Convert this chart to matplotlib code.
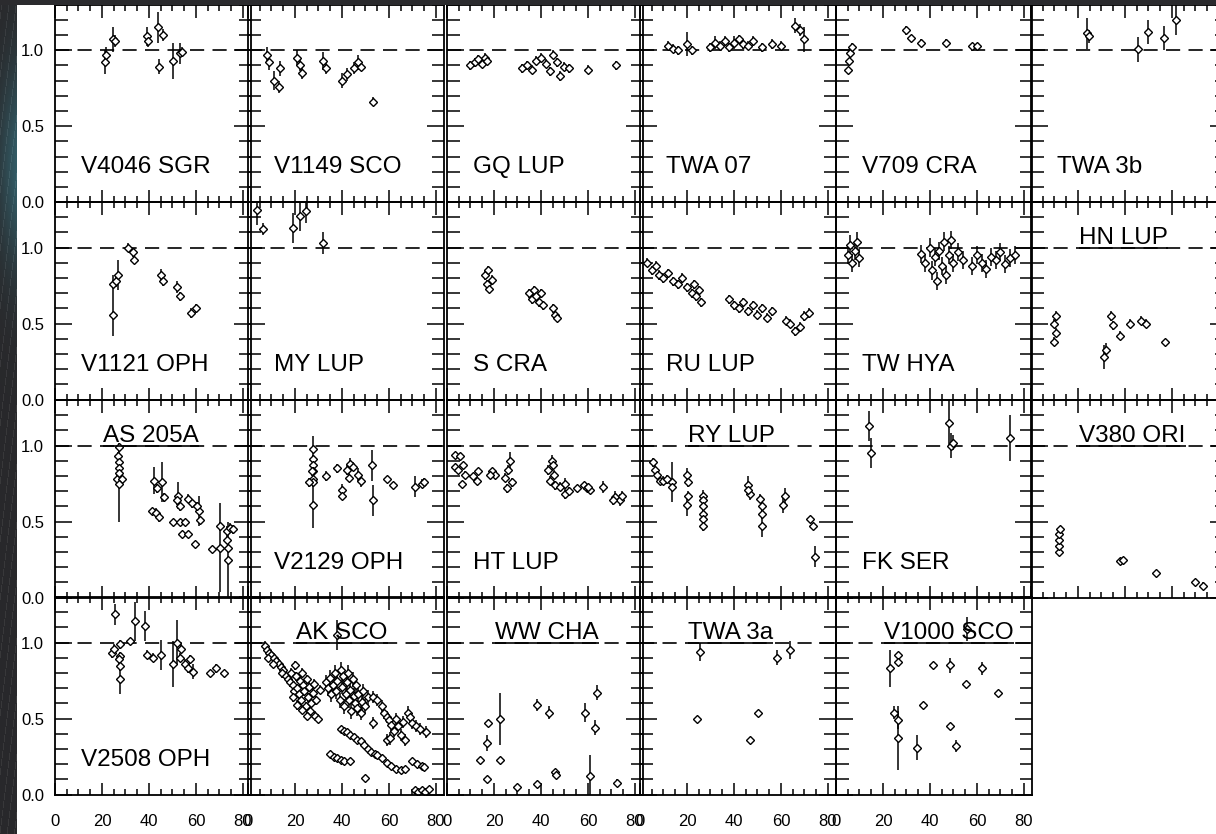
import numpy as np
import matplotlib
matplotlib.use("Agg")
import matplotlib.pyplot as plt
from matplotlib.ticker import MultipleLocator, FixedLocator

plt.rcParams['font.family'] = ['Liberation Sans', 'DejaVu Sans']

# ---------------- data: phase (x), normalised value (y), uncertainty (e) ----------------
V4046_SGR_X = [21.3, 21.7, 24.8, 25.5, 39.0, 39.5, 44.0, 46.0, 44.4, 50.3, 53.2, 54.0]
V4046_SGR_Y = [0.92, 0.97, 1.07, 1.06, 1.09, 1.06, 1.15, 1.10, 0.89, 0.93, 0.98, 0.99]
V4046_SGR_E = [0.08, 0.05, 0.08, 0.04, 0.06, 0.04, 0.10, 0.04, 0.05, 0.12, 0.07, 0.03]

V1149_SCO_X = [8, 9, 11, 13, 13.5, 21, 22, 23, 32, 33, 40, 42, 45, 47, 48, 53]
V1149_SCO_Y = [0.97, 0.92, 0.80, 0.76, 0.88, 0.95, 0.90, 0.85, 0.93, 0.88, 0.80, 0.84, 0.88, 0.92, 0.89, 0.66]
V1149_SCO_E = [0.05, 0.05, 0.06, 0.04, 0.05, 0.05, 0.04, 0.04, 0.06, 0.04, 0.05, 0.04, 0.04, 0.05, 0.03, 0.03]

GQ_LUP_X = [10, 12, 13, 15, 16, 17, 32, 34, 36, 38, 40, 42, 44, 45, 47, 48, 50, 52, 60, 72]
GQ_LUP_Y = [0.90, 0.92, 0.94, 0.91, 0.95, 0.93, 0.88, 0.90, 0.87, 0.93, 0.95, 0.91, 0.86, 0.97, 0.92, 0.83, 0.89, 0.88, 0.87, 0.90]
GQ_LUP_E = [0.03] * 20

TWA_07_X = [12, 14, 16, 20, 22, 30, 32, 34, 36, 38, 40, 42, 44, 46, 48, 52, 56, 60, 66, 68, 70]
TWA_07_Y = [1.03, 1.01, 1.00, 1.04, 1.00, 1.02, 1.05, 1.03, 1.06, 1.02, 1.05, 1.07, 1.04, 1.03, 1.06, 1.02, 1.04, 1.03, 1.16, 1.13, 1.07]
TWA_07_E = [0.03, 0.03, 0.03, 0.08, 0.03, 0.03, 0.04, 0.03, 0.03, 0.03, 0.04, 0.03, 0.03, 0.03, 0.03, 0.03, 0.03, 0.03, 0.05, 0.04, 0.08]

V709_CRA_X = [5, 5.5, 6, 7, 30, 32, 36, 47, 58, 60]
V709_CRA_Y = [0.87, 0.93, 0.98, 1.02, 1.13, 1.08, 1.05, 1.05, 1.03, 1.03]
V709_CRA_E = [0.02, 0.02, 0.02, 0.03, 0.03, 0.02, 0.02, 0.02, 0.02, 0.02]

TWA_3B_X = [23.7, 24.8, 45.7, 49.6, 56.6, 61.7]
TWA_3B_Y = [1.11, 1.09, 1.005, 1.12, 1.08, 1.20]
TWA_3B_E = [0.1, 0.04, 0.08, 0.08, 0.08, 0.1]

V1121_OPH_X = [24.5, 24.8, 26, 27, 31, 33, 33.5, 45, 46, 52, 53, 58, 60]
V1121_OPH_Y = [0.56, 0.76, 0.78, 0.82, 1.0, 0.97, 0.92, 0.82, 0.78, 0.74, 0.68, 0.57, 0.60]
V1121_OPH_E = [0.14, 0.06, 0.04, 0.1, 0.03, 0.03, 0.03, 0.04, 0.03, 0.04, 0.03, 0.03, 0.03]

MY_LUP_X = [4, 6.5, 19, 22, 24.5, 32]
MY_LUP_Y = [1.25, 1.12, 1.13, 1.21, 1.24, 1.03]
MY_LUP_E = [0.1, 0.04, 0.1, 0.1, 0.08, 0.07]

S_CRA_X = [16, 17, 18, 19, 17.5, 35, 36, 37, 38, 39, 40, 41, 45, 46, 47]
S_CRA_Y = [0.82, 0.76, 0.73, 0.79, 0.85, 0.70, 0.66, 0.72, 0.68, 0.64, 0.70, 0.62, 0.60, 0.56, 0.54]
S_CRA_E = [0.03] * 15

RU_LUP_X = [3, 5, 7, 8, 10, 12, 14, 16, 18, 20, 22, 23, 24, 25, 26, 38, 40, 42, 44, 46, 48, 50, 52, 54, 56, 62, 64, 66, 68, 70, 72]
RU_LUP_Y = [0.90, 0.85, 0.88, 0.82, 0.80, 0.83, 0.78, 0.76, 0.80, 0.74, 0.70, 0.76, 0.68, 0.72, 0.64, 0.66, 0.62, 0.60, 0.64, 0.58, 0.62, 0.56, 0.60, 0.54, 0.58, 0.52, 0.50, 0.45, 0.48, 0.55, 0.57]
RU_LUP_E = [0.03] * 31

TW_HYA_X = [5, 6, 7, 8, 9, 10, 36, 38, 40, 41, 42, 43, 44, 45, 46, 47, 48, 49, 50, 52, 54, 58, 60, 62, 64, 66, 68, 70, 72, 74, 76]
TW_HYA_Y = [0.95, 1.02, 0.90, 0.98, 1.04, 0.93, 0.96, 0.90, 1.00, 0.85, 0.94, 0.78, 0.98, 0.88, 1.04, 0.82, 0.95, 1.05, 0.90, 0.97, 0.92, 0.88, 0.95, 0.90, 0.86, 0.94, 0.92, 0.97, 0.89, 0.93, 0.95]
TW_HYA_E = [0.06] * 31

HN_LUP_X = [10, 10.5, 10, 10.5, 31, 32, 34, 35, 38, 42, 47, 49, 57]
HN_LUP_Y = [0.38, 0.44, 0.50, 0.55, 0.28, 0.33, 0.55, 0.49, 0.42, 0.50, 0.52, 0.50, 0.38]
HN_LUP_E = [0.03, 0.03, 0.03, 0.03, 0.08, 0.04, 0.03, 0.03, 0.03, 0.03, 0.03, 0.03, 0.02]

AS_205A_X = [27.4, 27.0, 27.4, 27.4, 26.5, 28.5, 27.4, 27.4, 42.1, 45.4, 43.3, 46.4, 41.1, 43.0, 44.4,
             52.5, 51.8, 53.0, 56.7, 58.2, 61.4, 61.7, 60.3, 50.4, 53.0, 55.3, 54.0, 56.7, 59.6,
             66.7, 70.2, 70.2, 73.0, 74.4, 75.8, 73.7, 73.7, 73.0]
AS_205A_Y = [0.99, 0.93, 0.89, 0.85, 0.78, 0.78, 0.75, 0.82, 0.77, 0.76, 0.72, 0.66, 0.57, 0.56, 0.53,
             0.67, 0.64, 0.60, 0.65, 0.62, 0.57, 0.51, 0.60, 0.50, 0.50, 0.50, 0.42, 0.42, 0.35,
             0.32, 0.33, 0.47, 0.44, 0.46, 0.45, 0.33, 0.25, 0.38]
AS_205A_E = [0.03, 0.03, 0.03, 0.03, 0.03, 0.03, 0.25, 0.03, 0.09, 0.13, 0.03, 0.03, 0.02, 0.03, 0.03,
             0.09, 0.03, 0.03, 0.03, 0.03, 0.1, 0.02, 0.03, 0.01, 0.01, 0.01, 0.01, 0.01, 0.02,
             0.02, 0.29, 0.03, 0.03, 0.03, 0.03, 0.03, 0.25, 0.03]

V2129_OPH_X = [27.8, 27.8, 27.8, 27.8, 27.8, 27.8, 27.8, 26.0, 27.2, 33.3, 37.7, 39.8, 39.8, 42.0, 43.4,
               44.5, 43.0, 46.9, 48.3, 52.6, 53.0, 59.0, 61.8, 71.0, 73.9, 75.0]
V2129_OPH_Y = [0.98, 0.91, 0.87, 0.83, 0.78, 0.76, 0.61, 0.76, 0.83, 0.80, 0.85, 0.71, 0.67, 0.84, 0.88,
               0.86, 0.79, 0.81, 0.77, 0.87, 0.64, 0.78, 0.74, 0.73, 0.75, 0.76]
V2129_OPH_E = [0.08, 0.03, 0.03, 0.03, 0.03, 0.03, 0.15, 0.03, 0.03, 0.03, 0.03, 0.04, 0.03, 0.03, 0.04,
               0.03, 0.03, 0.04, 0.04, 0.1, 0.1, 0.02, 0.02, 0.07, 0.03, 0.03]

HT_LUP_X = [3.4, 5.5, 3.4, 6.8, 4.8, 7.5, 6.2, 11.2, 13.3, 12.6, 19.0, 20.4, 18.5, 24.7, 26.1, 26.8, 25.4,
            27.5, 44.5, 45.2, 43.1, 45.5, 43.8, 45.9, 48.0, 50.1, 50.1, 52.0, 55.2, 58.1, 59.5, 60.9, 59.8,
            66.5, 71.5, 73.6, 74.3, 70.8]
HT_LUP_Y = [0.94, 0.93, 0.86, 0.87, 0.84, 0.81, 0.75, 0.80, 0.83, 0.77, 0.83, 0.81, 0.81, 0.79, 0.84, 0.90, 0.72,
            0.76, 0.90, 0.87, 0.84, 0.81, 0.77, 0.74, 0.73, 0.75, 0.68, 0.70, 0.72, 0.74, 0.72, 0.71, 0.73,
            0.73, 0.66, 0.64, 0.67, 0.64]
HT_LUP_E = [0.02, 0.02, 0.02, 0.02, 0.02, 0.02, 0.02, 0.02, 0.02, 0.02, 0.02, 0.02, 0.02, 0.03, 0.03, 0.06, 0.03,
            0.03, 0.04, 0.03, 0.03, 0.03, 0.03, 0.03, 0.03, 0.04, 0.03, 0.03, 0.02, 0.02, 0.02, 0.02, 0.02,
            0.04, 0.04, 0.04, 0.03, 0.03]

RY_LUP_X = [5.7, 6.4, 7.1, 8.5, 9.9, 11.3, 13.5, 13.5, 19.9, 20.6, 20.6, 19.9, 26.6, 26.6, 26.6, 26.6,
            26.6, 26.6, 46.1, 46.8, 46.1, 51.1, 51.8, 51.8, 51.8, 61.7, 61.0, 72.3, 73.8, 74.5]
RY_LUP_Y = [0.89, 0.84, 0.81, 0.77, 0.77, 0.78, 0.76, 0.73, 0.81, 0.76, 0.67, 0.61, 0.67, 0.64, 0.60, 0.55,
            0.52, 0.47, 0.74, 0.68, 0.71, 0.65, 0.60, 0.55, 0.47, 0.67, 0.61, 0.52, 0.47, 0.27]
RY_LUP_E = [0.03, 0.03, 0.03, 0.03, 0.03, 0.03, 0.13, 0.03, 0.04, 0.03, 0.03, 0.07, 0.04, 0.03, 0.03, 0.03,
            0.03, 0.03, 0.06, 0.04, 0.03, 0.03, 0.03, 0.03, 0.07, 0.05, 0.05, 0.01, 0.01, 0.07]

FK_SER_X = [14, 15, 48, 49, 50, 74]
FK_SER_Y = [1.13, 0.95, 1.15, 1.00, 1.02, 1.05]
FK_SER_E = [0.10, 0.10, 0.15, 0.08, 0.05, 0.15]

V380_ORI_X = [12, 12, 12, 12, 12.3, 38, 39, 53, 70, 73]
V380_ORI_Y = [0.30, 0.34, 0.38, 0.42, 0.45, 0.24, 0.25, 0.16, 0.10, 0.08]
V380_ORI_E = [0.02] * 10

V2508_OPH_X = [25.5, 24.1, 25.0, 27.7, 27.2, 27.7, 27.7, 27.7, 31.9, 34.0, 38.3, 39.0, 41.8, 45.0, 50.3,
               52.0, 53.5, 53.0, 55.3, 57.4, 58.9, 56.7, 66.0, 68.5, 72.0]
V2508_OPH_Y = [1.185, 0.93, 0.96, 0.91, 0.89, 0.99, 0.845, 0.76, 1.01, 1.14, 1.11, 0.92, 0.90, 0.92, 0.86,
               1.00, 0.96, 0.90, 0.86, 0.89, 0.81, 0.83, 0.80, 0.83, 0.80]
V2508_OPH_E = [0.07, 0.03, 0.03, 0.03, 0.03, 0.03, 0.03, 0.10, 0.02, 0.13, 0.10, 0.03, 0.03, 0.10, 0.15,
               0.15, 0.03, 0.03, 0.03, 0.03, 0.05, 0.03, 0.02, 0.03, 0.02]

AK_SCO_X = [7.2, 8, 9, 10, 8.5, 11, 12, 13, 10.5, 14, 15, 14.5, 16, 17, 18, 18.5, 19, 19.5, 20, 20.5, 21,
            21.5, 22, 22.5, 23, 23.5, 24, 24.5, 25, 25.5, 26, 26.5, 27, 27.5, 28, 28.5, 29, 30, 30.5, 19, 21,
            23, 25,
            33, 34, 35, 35.5, 36, 37, 37.5, 38, 39, 39.5, 40, 40.5, 41, 41.5, 42, 42.5, 43, 43.5, 44, 44.5,
            45, 45.5, 46, 46.5, 47, 48, 48.5, 49, 50, 51,
            53, 55, 53, 57, 58, 59, 60, 61, 62, 63, 64, 66, 68, 69, 70, 71.5, 73, 75.7, 67, 65, 59, 60.5,
            39.5, 41, 42, 43.5, 45, 46.5, 48, 49.5, 51, 52.5, 54, 55, 57, 59, 61, 63, 65, 67, 69.7, 72, 73.9, 75,
            35, 36.5, 38, 39.5, 41, 43.5, 49.8, 71, 72.5, 74, 75.5, 77, 38]
AK_SCO_Y = [0.98, 0.95, 0.93, 0.92, 0.90, 0.90, 0.88, 0.86, 0.86, 0.84, 0.82, 0.80, 0.78, 0.76, 0.74, 0.80,
            0.72, 0.68, 0.85, 0.78, 0.70, 0.66, 0.75, 0.62, 0.80, 0.72, 0.68, 0.58, 0.76, 0.64, 0.71, 0.55,
            0.60, 0.67, 0.73, 0.52, 0.62, 0.50, 0.69, 0.64, 0.59, 0.56, 0.52,
            0.74, 0.70, 0.77, 0.66, 0.72, 0.80, 0.68, 0.75, 0.62, 0.82, 0.71, 0.78, 0.58, 0.66, 0.74, 0.80,
            0.62, 0.69, 0.55, 0.76, 0.65, 0.60, 0.72, 0.57, 0.66, 0.54, 0.61, 0.68, 0.58, 0.64,
            0.64, 0.62, 0.47, 0.58, 0.54, 0.51, 0.49, 0.46, 0.42, 0.50, 0.45, 0.48, 0.54, 0.51, 0.47, 0.45,
            0.43, 0.41, 0.36, 0.39, 0.36, 0.37,
            0.43, 0.42, 0.41, 0.39, 0.38, 0.36, 0.35, 0.33, 0.30, 0.28, 0.27, 0.26, 0.24, 0.21, 0.19, 0.17,
            0.16, 0.17, 0.22, 0.20, 0.19, 0.18,
            0.27, 0.25, 0.24, 0.23, 0.22, 0.22, 0.11, 0.03, 0.02, 0.03, 0.02, 0.04, 1.05]
AK_SCO_E = [0.03] * 43 + [0.05] * 30 + [0.04] * 22 + [0.02] * 22 + [0.02] * 12 + [0.10]

WW_CHA_X = [14.0, 16.9, 17.6, 22.6, 22.6, 16.9, 38.2, 43.2, 38.2, 46.0, 46.5, 58.7, 63.7, 63.0, 60.9,
            72.3, 30.0]
WW_CHA_Y = [0.23, 0.34, 0.47, 0.50, 0.23, 0.10, 0.59, 0.54, 0.07, 0.15, 0.13, 0.54, 0.67, 0.44, 0.12,
            0.08, 0.05]
WW_CHA_E = [0.02, 0.05, 0.02, 0.17, 0.01, 0.02, 0.04, 0.04, 0.02, 0.02, 0.02, 0.06, 0.05, 0.05, 0.14,
            0.02, 0.01]

TWA_3A_X = [25.5, 24.1, 58.2, 63.8, 46.8, 50.4]
TWA_3A_Y = [0.94, 0.50, 0.90, 0.95, 0.36, 0.54]
TWA_3A_E = [0.06, 0.02, 0.05, 0.06, 0.02, 0.02]

V1000_SCO_X = [23.0, 26.5, 26.5, 41.4, 48.5, 62.0, 55.2, 69.1, 37.2, 24.8, 26.2, 26.4, 34.3, 48.5, 51.1, 55.6]
V1000_SCO_Y = [0.83, 0.92, 0.87, 0.85, 0.85, 0.83, 0.73, 0.67, 0.59, 0.54, 0.49, 0.37, 0.31, 0.45, 0.32, 1.09]
V1000_SCO_E = [0.12, 0.02, 0.02, 0.01, 0.05, 0.04, 0.01, 0.01, 0.01, 0.04, 0.06, 0.21, 0.08, 0.02, 0.04, 0.08]

# (row, col, name, label placement, x, y, err)
PANELS = [
    (0, 0, "V4046 SGR", "low", V4046_SGR_X, V4046_SGR_Y, V4046_SGR_E),
    (0, 1, "V1149 SCO", "low", V1149_SCO_X, V1149_SCO_Y, V1149_SCO_E),
    (0, 2, "GQ LUP", "low", GQ_LUP_X, GQ_LUP_Y, GQ_LUP_E),
    (0, 3, "TWA 07", "low", TWA_07_X, TWA_07_Y, TWA_07_E),
    (0, 4, "V709 CRA", "low", V709_CRA_X, V709_CRA_Y, V709_CRA_E),
    (0, 5, "TWA 3b", "low", TWA_3B_X, TWA_3B_Y, TWA_3B_E),
    (1, 0, "V1121 OPH", "low", V1121_OPH_X, V1121_OPH_Y, V1121_OPH_E),
    (1, 1, "MY LUP", "low", MY_LUP_X, MY_LUP_Y, MY_LUP_E),
    (1, 2, "S CRA", "low", S_CRA_X, S_CRA_Y, S_CRA_E),
    (1, 3, "RU LUP", "low", RU_LUP_X, RU_LUP_Y, RU_LUP_E),
    (1, 4, "TW HYA", "low", TW_HYA_X, TW_HYA_Y, TW_HYA_E),
    (1, 5, "HN LUP", "high", HN_LUP_X, HN_LUP_Y, HN_LUP_E),
    (2, 0, "AS 205A", "high", AS_205A_X, AS_205A_Y, AS_205A_E),
    (2, 1, "V2129 OPH", "low", V2129_OPH_X, V2129_OPH_Y, V2129_OPH_E),
    (2, 2, "HT LUP", "low", HT_LUP_X, HT_LUP_Y, HT_LUP_E),
    (2, 3, "RY LUP", "high", RY_LUP_X, RY_LUP_Y, RY_LUP_E),
    (2, 4, "FK SER", "low", FK_SER_X, FK_SER_Y, FK_SER_E),
    (2, 5, "V380 ORI", "high", V380_ORI_X, V380_ORI_Y, V380_ORI_E),
    (3, 0, "V2508 OPH", "low", V2508_OPH_X, V2508_OPH_Y, V2508_OPH_E),
    (3, 1, "AK SCO", "high", AK_SCO_X, AK_SCO_Y, AK_SCO_E),
    (3, 2, "WW CHA", "high", WW_CHA_X, WW_CHA_Y, WW_CHA_E),
    (3, 3, "TWA 3a", "high", TWA_3A_X, TWA_3A_Y, TWA_3A_E),
    (3, 4, "V1000 SCO", "high", V1000_SCO_X, V1000_SCO_Y, V1000_SCO_E),
]

X_TICKS = [0, 20, 40, 60, 80]
Y_TICKS = [0.0, 0.5, 1.0]

# ---------------- layout (pixels) ----------------
W, H = 1216, 834
COL_LEFT = [55, 248, 447, 640, 836, 1031]
COL_W = 195.5
ROW_TOP = [4.5, 202, 400, 597]
ROW_H = 197.7
XLIM = (0, 83.2)
YLIM = (0, 1.3)

fig = plt.figure(figsize=(W / 100, H / 100), dpi=100)
fig.patch.set_facecolor("white")

underlined = []
for row, col, name, place, xs, ys, es in PANELS:
    l = COL_LEFT[col] / W
    b = (H - ROW_TOP[row] - ROW_H) / H
    ax = fig.add_axes([l, b, COL_W / W, ROW_H / H])
    ax.set_xlim(*XLIM)
    ax.set_ylim(*YLIM)
    ax.set_facecolor("none")
    for s in ax.spines.values():
        s.set_linewidth(1.3)
    ax.xaxis.set_major_locator(FixedLocator(X_TICKS))
    ax.xaxis.set_minor_locator(MultipleLocator(5))
    ax.yaxis.set_major_locator(FixedLocator(Y_TICKS))
    ax.yaxis.set_minor_locator(MultipleLocator(0.1))
    ax.tick_params(axis="both", which="both", direction="in", top=True, right=True, width=1.1)
    ax.tick_params(axis="x", which="major", length=9, pad=14)
    ax.tick_params(axis="x", which="minor", length=4.5)
    ax.tick_params(axis="y", which="major", length=12, pad=8)
    ax.tick_params(axis="y", which="minor", length=9)
    ax.tick_params(labelsize=12)
    if col == 0:
        ax.set_yticklabels(["0.0", "0.5", "1.0"])
    else:
        ax.tick_params(axis="y", labelleft=False)
    if row == 3:
        ax.set_xticklabels([str(v) for v in X_TICKS])
    else:
        ax.tick_params(axis="x", labelbottom=False)

    ax.axhline(1.0, color="black", lw=1.2, ls=(0, (8.5, 5)))
    ax.errorbar(xs, ys, yerr=es, fmt="none", ecolor="black", elinewidth=1.1, capsize=0)
    ax.plot(xs, ys, ls="none", marker="D", ms=4.5, mfc="white", mec="black", mew=1.0)

    if place == "low":
        ax.text(11.2, 0.19, name, fontsize=17.5, ha="left", va="baseline")
    else:
        t = ax.text(20.5, 1.025, name, fontsize=17.5, ha="left", va="baseline")
        underlined.append((ax, t))

# solid rule beneath the upper labels
fig.canvas.draw()
renderer = fig.canvas.get_renderer()
for ax, t in underlined:
    bb = t.get_window_extent(renderer)
    inv = ax.transData.inverted()
    x0 = inv.transform((bb.x0, 0))[0]
    x1 = inv.transform((bb.x1, 0))[0]
    ax.plot([x0, x1], [1.0, 1.0], color="black", lw=1.2, solid_capstyle="butt")

# dark desktop border at the left and top
strip = fig.add_axes([0, 0, 17 / W, 1])
yy = np.linspace(0, 1, 834)[:, None]
xx = np.linspace(0, 1, 17)[None, :]
base = np.array([0.16, 0.16, 0.17])
teal = np.array([0.20, 0.36, 0.40])
wt = np.exp(-((yy - 0.2) / 0.12) ** 2) * (0.4 + 0.6 * xx)
img = base[None, None, :] * (1 - wt[..., None]) + teal[None, None, :] * wt[..., None]
streak = 0.06 * (np.sin(yy * 90 + xx * 14) > 0.93)
img = np.clip(img + streak[..., None], 0, 1)
strip.imshow(img, aspect="auto", extent=(0, 1, 0, 1))
strip.set_axis_off()

top = fig.add_axes([0, (H - 5) / H, 1, 5 / H])
top.set_facecolor((0.17, 0.17, 0.18))
top.set_xticks([])
top.set_yticks([])
for s in top.spines.values():
    s.set_visible(False)

fig.savefig("out.png", dpi=100, facecolor="white")
